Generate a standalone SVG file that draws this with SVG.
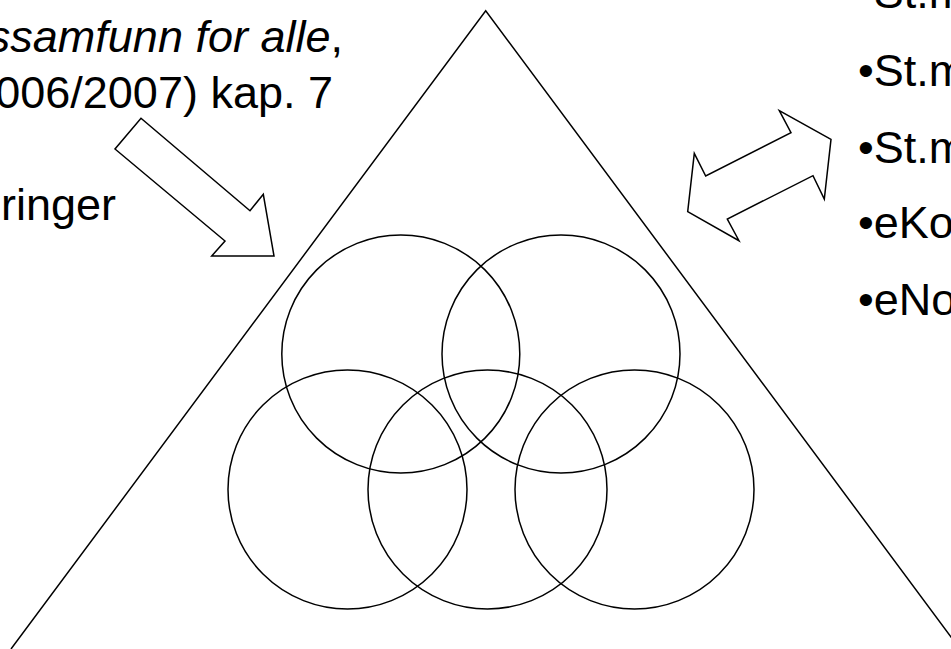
<svg xmlns="http://www.w3.org/2000/svg" width="951" height="649" viewBox="0 0 951 649">
<style>
.s{fill:none;stroke:#000;stroke-width:1.5;stroke-linejoin:miter}
.a{fill:#fff;stroke:#000;stroke-width:1.5;stroke-linejoin:miter}
.t{font-family:"Liberation Sans",Arial,sans-serif;font-size:45px;fill:#000}
</style>
<rect width="951" height="649" fill="#fff"/>
<g id="triangle"><polyline class="s" points="11,649 485.7,10.7 960,649"/></g>
<g id="circles">
<circle id="c1" class="s" cx="400.8" cy="354" r="119"/>
<circle id="c2" class="s" cx="561" cy="354" r="119"/>
<circle id="c3" class="s" cx="347.5" cy="489.5" r="119.5"/>
<circle id="c4" class="s" cx="487.5" cy="489.5" r="119.5"/>
<circle id="c5" class="s" cx="634.5" cy="489.5" r="119.5"/>
</g>
<g id="connectors">
<polygon id="arrow1" class="a" points="141,118.3 250,210.7 263.3,194.3 274,256 211.7,256 225,241 115,149"/>
<polygon id="arrow2" class="a" points="687.7,211.7 694.3,153.3 705.7,176 791,132.7 779.3,110.7 831,139.3 824.3,199 813,175.7 727.3,219 739,240.7"/>
</g>
<g id="left-text" class="t">
<text x="343" y="52" text-anchor="end"><tspan font-style="italic">ssamfunn for alle</tspan>,</text>
<text x="333" y="108" text-anchor="end">006/2007) kap. 7</text>
<text x="1" y="220">ringer</text>
</g>
<g id="right-text" class="t">
<text x="858" y="8">•St.m</text>
<text x="858" y="86">•St.m</text>
<text x="858" y="162.7">•St.m</text>
<text x="858" y="238.3">•eKo</text>
<text x="858" y="315">•eNo</text>
</g>
</svg>
